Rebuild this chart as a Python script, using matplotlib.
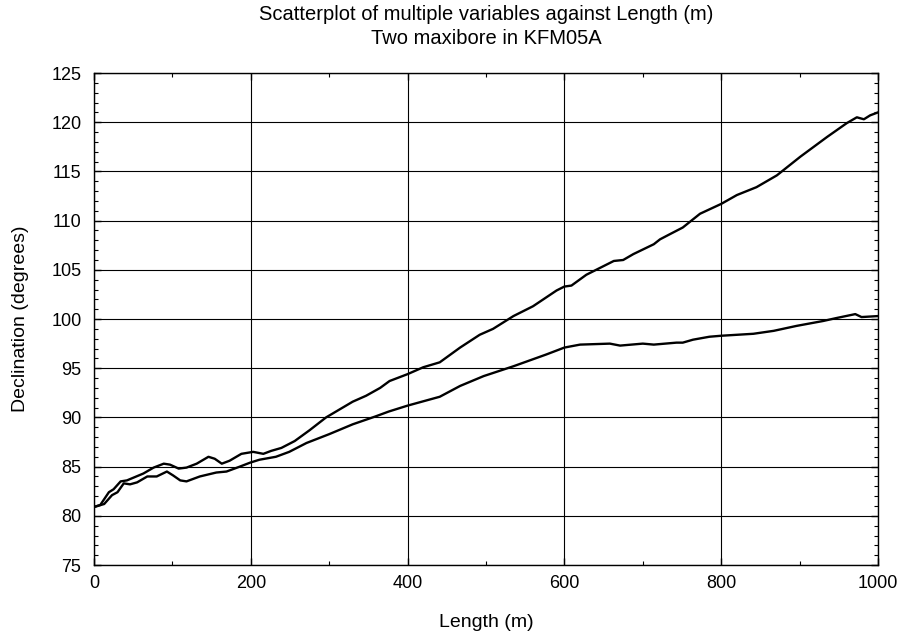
import matplotlib.pyplot as plt
from matplotlib.ticker import MultipleLocator

plt.rcParams['font.family'] = ['Liberation Sans', 'DejaVu Sans']

# upper curve (ends near 121 degrees)
len_a = [0, 8, 19, 25, 34, 42, 51, 63, 76, 89, 97, 108, 118, 131, 146, 154, 163, 173,
         188, 203, 216, 226, 239, 256, 275, 296, 313, 330, 347, 365, 377, 400, 420, 441,
         467, 492, 509, 535, 560, 590, 600, 609, 628, 663, 675, 688, 714, 722, 734, 751,
         773, 800, 820, 845, 871, 901, 935, 960, 973, 982, 990, 1000]
dec_a = [80.9, 81.1, 82.4, 82.7, 83.5, 83.6, 83.9, 84.3, 84.9, 85.3, 85.2, 84.8, 84.9,
         85.3, 86.0, 85.8, 85.3, 85.6, 86.3, 86.5, 86.3, 86.6, 86.9, 87.6, 88.7, 90.0,
         90.8, 91.6, 92.2, 93.0, 93.7, 94.4, 95.1, 95.6, 97.1, 98.4, 99.0, 100.3, 101.3,
         102.9, 103.3, 103.4, 104.5, 105.9, 106.0, 106.6, 107.6, 108.1, 108.6, 109.3,
         110.7, 111.7, 112.6, 113.4, 114.6, 116.5, 118.5, 119.9, 120.5, 120.3, 120.7, 121.0]

# lower curve (ends near 100 degrees)
len_b = [0, 13, 23, 30, 38, 46, 55, 68, 80, 93, 101, 110, 118, 135, 156, 169, 186, 199,
         211, 232, 249, 271, 300, 330, 359, 376, 400, 441, 467, 497, 535, 577, 600, 620,
         658, 671, 700, 714, 743, 751, 764, 785, 800, 841, 867, 896, 930, 947, 971, 979,
         1000]
dec_b = [80.9, 81.2, 82.1, 82.4, 83.3, 83.2, 83.4, 84.0, 84.0, 84.5, 84.1, 83.6, 83.5,
         84.0, 84.4, 84.5, 85.0, 85.4, 85.7, 86.0, 86.5, 87.4, 88.3, 89.3, 90.1, 90.6,
         91.2, 92.1, 93.2, 94.2, 95.2, 96.4, 97.1, 97.4, 97.5, 97.3, 97.5, 97.4, 97.6,
         97.6, 97.9, 98.2, 98.3, 98.5, 98.8, 99.3, 99.8, 100.1, 100.5, 100.2, 100.3]

fig = plt.figure(figsize=(9.02, 6.35), dpi=100)
ax = fig.add_axes([0.1042, 0.1102, 0.8692, 0.7748])

ax.plot(len_a, dec_a, color='black', linewidth=1.7)
ax.plot(len_b, dec_b, color='black', linewidth=1.7)

ax.set_xlim(0, 1000)
ax.set_ylim(75, 125)
ax.xaxis.set_major_locator(MultipleLocator(200))
ax.xaxis.set_minor_locator(MultipleLocator(100))
ax.yaxis.set_major_locator(MultipleLocator(5))
ax.yaxis.set_minor_locator(MultipleLocator(1))
ax.tick_params(which='both', direction='in', top=True, right=True, labelsize=13)
ax.tick_params(which='major', length=5, width=1)
ax.tick_params(which='minor', length=3, width=0.8)
ax.tick_params(axis='x', pad=7)
ax.tick_params(axis='y', pad=9)
ax.grid(True, which='major', color='black', linewidth=0.8)
for s in ax.spines.values():
    s.set_linewidth(1)

ax.set_xlabel('Length (m)', fontsize=14, labelpad=16)
ax.set_ylabel('Declination (degrees)', fontsize=14, labelpad=16)
ax.set_title('Scatterplot of multiple variables against Length (m)\nTwo maxibore in KFM05A',
             fontsize=14.5, linespacing=1.3, pad=21)

fig.savefig('out.png', dpi=100)
